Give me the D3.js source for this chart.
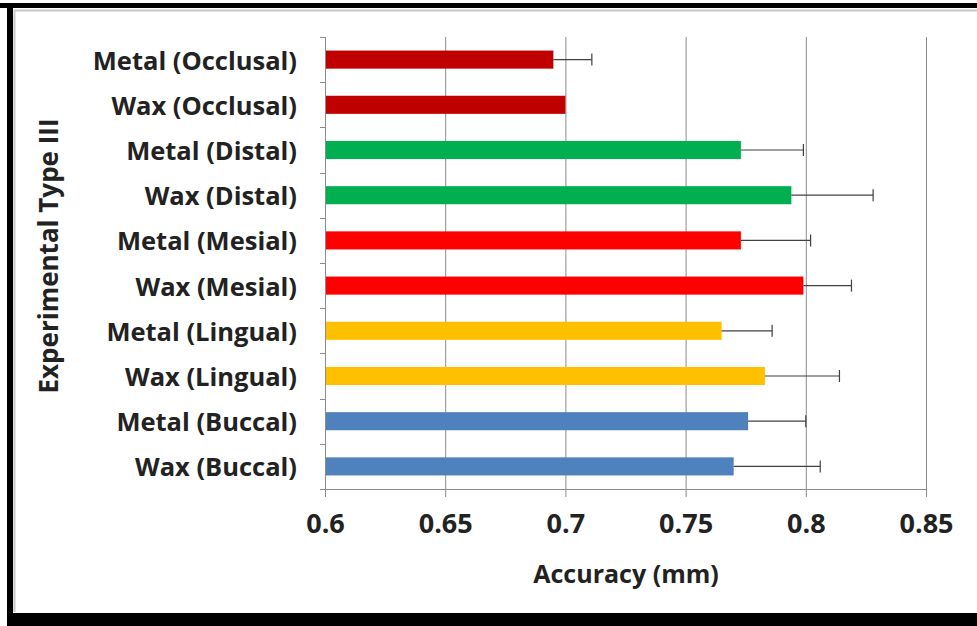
<!DOCTYPE html>
<html>
<head>
<meta charset="utf-8">
<script src="https://cdn.jsdelivr.net/npm/d3@7"></script>
<style>
  html, body { margin: 0; padding: 0; background: #fff; }
  svg { display: block; }
  text { font-family: "Open Sans", Lato, sans-serif; font-weight: bold; fill: #222; }
</style>
</head>
<body>
<svg id="chart" width="977" height="626"></svg>
<script>
// Groups listed top to bottom
const categories = [
  "Metal (Occlusal)", "Wax (Occlusal)",
  "Metal (Distal)", "Wax (Distal)",
  "Metal (Mesial)", "Wax (Mesial)",
  "Metal (Lingual)", "Wax (Lingual)",
  "Metal (Buccal)", "Wax (Buccal)"
];
const means = [0.695, 0.700, 0.773, 0.794, 0.773, 0.799, 0.765, 0.783, 0.776, 0.770];
const errors = [0.016, 0.000, 0.026, 0.034, 0.029, 0.020, 0.021, 0.031, 0.024, 0.036];
const surfaces = ["Occlusal", "Occlusal", "Distal", "Distal", "Mesial", "Mesial", "Lingual", "Lingual", "Buccal", "Buccal"];
const surfaceNames = ["Occlusal", "Distal", "Mesial", "Lingual", "Buccal"];
const surfaceColors = ["#C00000", "#00B050", "#FF0000", "#FFC000", "#4F81BD"];
const xTicks = [0.6, 0.65, 0.7, 0.75, 0.8, 0.85];
const xTitle = "Accuracy (mm)";
const yTitle = "Experimental Type III";

const svg = d3.select("#chart");

// page frame
svg.append("rect").attr("x", 0).attr("y", 3).attr("width", 977).attr("height", 5).attr("fill", "#000");
svg.append("rect").attr("x", 7).attr("y", 3).attr("width", 6).attr("height", 623).attr("fill", "#000");
svg.append("rect").attr("x", 7).attr("y", 613).attr("width", 970).attr("height", 13).attr("fill", "#000");
svg.append("path").attr("d", "M14.5,612V10.5H977").attr("fill", "none").attr("stroke", "#c8c8c8").attr("stroke-width", 2);

const plotLeft = 325, plotRight = 926, plotTop = 37, plotBottom = 489;

const x = d3.scaleLinear().domain([0.6, 0.85]).range([plotLeft, plotRight]);
const y = d3.scaleBand().domain(categories).range([plotTop, plotBottom]).paddingInner(0.6).paddingOuter(0.3);
const color = d3.scaleOrdinal().domain(surfaceNames).range(surfaceColors);

// vertical gridlines with ticks below the baseline
const xAxis = d3.axisBottom(x).tickValues(xTicks).tickSize(-(plotBottom - plotTop)).tickFormat(d3.format("~g"));
const gx = svg.append("g").attr("transform", `translate(0,${plotBottom})`).call(xAxis);
gx.select(".domain").remove();
gx.selectAll(".tick line").attr("stroke", "#8c8c8c").attr("y2", -(plotBottom - plotTop)).attr("y1", 8);
gx.selectAll(".tick text").attr("y", 33).attr("dy", null).attr("dominant-baseline", "central")
  .attr("font-size", 27).attr("fill", "#222")
  .attr("font-family", "'Open Sans', Lato, sans-serif").attr("font-weight", "bold");
svg.append("line").attr("x1", plotLeft).attr("x2", plotRight).attr("y1", plotBottom + 0.5).attr("y2", plotBottom + 0.5).attr("stroke", "#8c8c8c");

// category axis on the left
const step = y.step();
const boundaries = categories.map(c => y(c) - step * y.paddingInner() / 2).concat([plotBottom]);
svg.append("line").attr("x1", plotLeft + 0.5).attr("x2", plotLeft + 0.5).attr("y1", plotTop).attr("y2", plotBottom).attr("stroke", "#8c8c8c");
svg.append("g").selectAll("line").data(boundaries).join("line")
  .attr("x1", plotLeft - 5).attr("x2", plotLeft).attr("y1", d => Math.round(d) + 0.5).attr("y2", d => Math.round(d) + 0.5)
  .attr("stroke", "#8c8c8c");
svg.append("g").selectAll("text").data(categories).join("text")
  .attr("x", 297).attr("y", d => y(d) + y.bandwidth() / 2)
  .attr("text-anchor", "end").attr("dominant-baseline", "central")
  .attr("font-size", 25.5).text(d => d);

// bars
svg.append("g").selectAll("rect").data(categories).join("rect")
  .attr("x", x(0.6) + 1).attr("y", d => y(d))
  .attr("width", (d, i) => x(means[i]) - x(0.6) - 1).attr("height", y.bandwidth())
  .attr("fill", (d, i) => color(surfaces[i]));

// one-sided error bars
const eb = svg.append("g").attr("stroke", "#404040").attr("stroke-width", 1.2);
categories.forEach((c, i) => {
  if (errors[i] <= 0) return;
  const cy = y(c) + y.bandwidth() / 2;
  eb.append("line").attr("x1", x(means[i])).attr("x2", x(means[i] + errors[i])).attr("y1", cy).attr("y2", cy);
  eb.append("line").attr("x1", x(means[i] + errors[i])).attr("x2", x(means[i] + errors[i])).attr("y1", cy - 6).attr("y2", cy + 6);
});

// axis titles
svg.append("text").attr("x", 626).attr("y", 573).attr("text-anchor", "middle").attr("dominant-baseline", "central")
  .attr("font-size", 25).text(xTitle);
svg.append("text").attr("transform", "translate(48,256) rotate(-90)").attr("text-anchor", "middle").attr("dominant-baseline", "central")
  .attr("font-size", 26).text(yTitle);
</script>
</body>
</html>
